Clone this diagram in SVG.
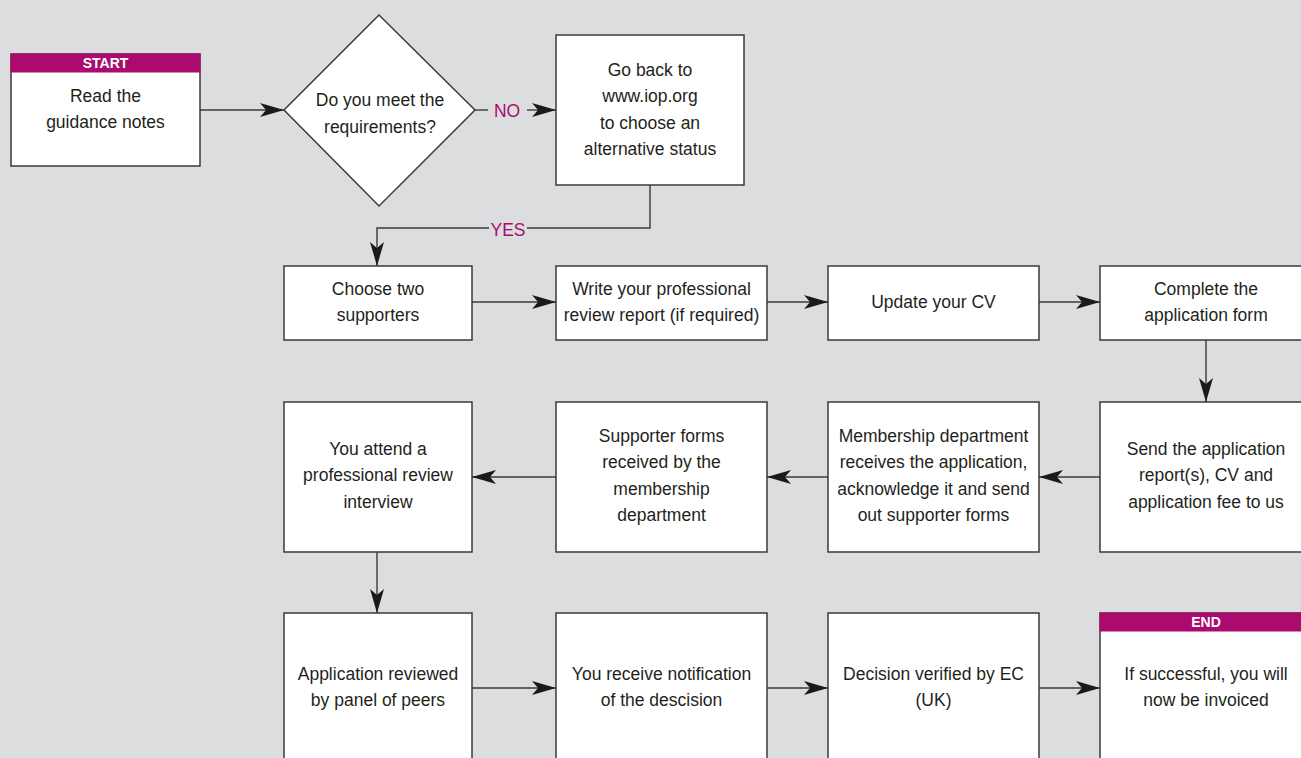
<svg xmlns="http://www.w3.org/2000/svg" width="1301" height="758" viewBox="0 0 1301 758">
  <defs>
    <marker id="arr" markerUnits="userSpaceOnUse" markerWidth="26" markerHeight="16" refX="24" refY="7" orient="auto">
      <path d="M0,0 L24,7 L0,14 L6,7 Z" fill="#1a1a1a"/>
    </marker>
    <style>
      .box { fill: #ffffff; stroke: #3a3a3a; stroke-width: 1.5; }
      .hdr { fill: #ab0b6f; }
      .hdrt { font-family: "Liberation Sans", Arial, sans-serif; font-size: 14px; font-weight: bold; fill: #ffffff; text-anchor: middle; }
      .t { font-family: "Liberation Sans", Arial, sans-serif; font-size: 17.5px; fill: #231f20; text-anchor: middle; }
      .lbl { font-family: "Liberation Sans", Arial, sans-serif; font-size: 17.5px; fill: #ab0b6f; text-anchor: middle; }
      .c { fill: none; stroke: #3a3a3a; stroke-width: 1.4; }
      .ca { fill: none; stroke: #3a3a3a; stroke-width: 1.4; marker-end: url(#arr); }
    </style>
  </defs>
  <rect x="0" y="0" width="1301" height="758" fill="#dcdddf"/>

  <g id="connectors">
    <line class="ca" x1="200" y1="110" x2="284" y2="110"/>
    <line class="c" x1="475" y1="110" x2="488" y2="110"/>
    <line class="ca" x1="527" y1="110" x2="556" y2="110"/>
    <polyline class="c" points="650,185 650,228 527,228"/>
    <polyline class="ca" points="489,228 377,228 377,266"/>
    <line class="ca" x1="472" y1="302" x2="556" y2="302"/>
    <line class="ca" x1="767" y1="302" x2="828" y2="302"/>
    <line class="ca" x1="1039" y1="302" x2="1100" y2="302"/>
    <line class="ca" x1="1206" y1="340" x2="1206" y2="402"/>
    <line class="ca" x1="1100" y1="477" x2="1039" y2="477"/>
    <line class="ca" x1="828" y1="477" x2="767" y2="477"/>
    <line class="ca" x1="556" y1="477" x2="472" y2="477"/>
    <line class="ca" x1="377" y1="552" x2="377" y2="613"/>
    <line class="ca" x1="472" y1="688" x2="556" y2="688"/>
    <line class="ca" x1="767" y1="688" x2="828" y2="688"/>
    <line class="ca" x1="1039" y1="688" x2="1100" y2="688"/>
    <text class="lbl" x="507" y="117">NO</text>
    <text class="lbl" x="508" y="236">YES</text>
  </g>

  <g id="start">
    <rect class="box" x="11" y="54" width="189" height="112"/>
    <rect class="hdr" x="10.5" y="53.5" width="190" height="19"/>
    <text class="hdrt" x="105.5" y="68">START</text>
    <text class="t" x="105.5" y="102">Read the</text>
    <text class="t" x="105.5" y="128">guidance notes</text>
  </g>

  <g id="decision">
    <polygon class="box" points="284,110 379,15 475,110 379,206"/>
    <text class="t" x="380" y="106">Do you meet the</text>
    <text class="t" x="380" y="133">requirements?</text>
  </g>

  <g id="goback">
    <rect class="box" x="556" y="35" width="188" height="150"/>
    <text class="t" x="650" y="76">Go back to</text>
    <text class="t" x="650" y="102">www.iop.org</text>
    <text class="t" x="650" y="129">to choose an</text>
    <text class="t" x="650" y="155">alternative status</text>
  </g>

  <g id="supporters">
    <rect class="box" x="284" y="266" width="188" height="74"/>
    <text class="t" x="378" y="295">Choose two</text>
    <text class="t" x="378" y="321">supporters</text>
  </g>

  <g id="report">
    <rect class="box" x="556" y="266" width="211" height="74"/>
    <text class="t" x="661.5" y="295">Write your professional</text>
    <text class="t" x="661.5" y="321">review report (if required)</text>
  </g>

  <g id="cv">
    <rect class="box" x="828" y="266" width="211" height="74"/>
    <text class="t" x="933.5" y="308">Update your CV</text>
  </g>

  <g id="form">
    <rect class="box" x="1100" y="266" width="210" height="74"/>
    <text class="t" x="1206" y="295">Complete the</text>
    <text class="t" x="1206" y="321">application form</text>
  </g>

  <g id="send">
    <rect class="box" x="1100" y="402" width="210" height="150"/>
    <text class="t" x="1206" y="455">Send the application</text>
    <text class="t" x="1206" y="481">report(s), CV and</text>
    <text class="t" x="1206" y="508">application fee to us</text>
  </g>

  <g id="membership">
    <rect class="box" x="828" y="402" width="211" height="150"/>
    <text class="t" x="933.5" y="442">Membership department</text>
    <text class="t" x="933.5" y="468">receives the application,</text>
    <text class="t" x="933.5" y="495">acknowledge it and send</text>
    <text class="t" x="933.5" y="521">out supporter forms</text>
  </g>

  <g id="supporterforms">
    <rect class="box" x="556" y="402" width="211" height="150"/>
    <text class="t" x="661.5" y="442">Supporter forms</text>
    <text class="t" x="661.5" y="468">received by the</text>
    <text class="t" x="661.5" y="495">membership</text>
    <text class="t" x="661.5" y="521">department</text>
  </g>

  <g id="interview">
    <rect class="box" x="284" y="402" width="188" height="150"/>
    <text class="t" x="378" y="455">You attend a</text>
    <text class="t" x="378" y="481">professional review</text>
    <text class="t" x="378" y="508">interview</text>
  </g>

  <g id="panel">
    <rect class="box" x="284" y="613" width="188" height="160"/>
    <text class="t" x="378" y="680">Application reviewed</text>
    <text class="t" x="378" y="706">by panel of peers</text>
  </g>

  <g id="notification">
    <rect class="box" x="556" y="613" width="211" height="160"/>
    <text class="t" x="661.5" y="680">You receive notification</text>
    <text class="t" x="661.5" y="706">of the descision</text>
  </g>

  <g id="verified">
    <rect class="box" x="828" y="613" width="211" height="160"/>
    <text class="t" x="933.5" y="680">Decision verified by EC</text>
    <text class="t" x="933.5" y="706">(UK)</text>
  </g>

  <g id="end">
    <rect class="box" x="1100" y="613" width="210" height="160"/>
    <rect class="hdr" x="1099.5" y="612.5" width="210" height="19"/>
    <text class="hdrt" x="1206" y="627">END</text>
    <text class="t" x="1206" y="680">If successful, you will</text>
    <text class="t" x="1206" y="706">now be invoiced</text>
  </g>
</svg>
